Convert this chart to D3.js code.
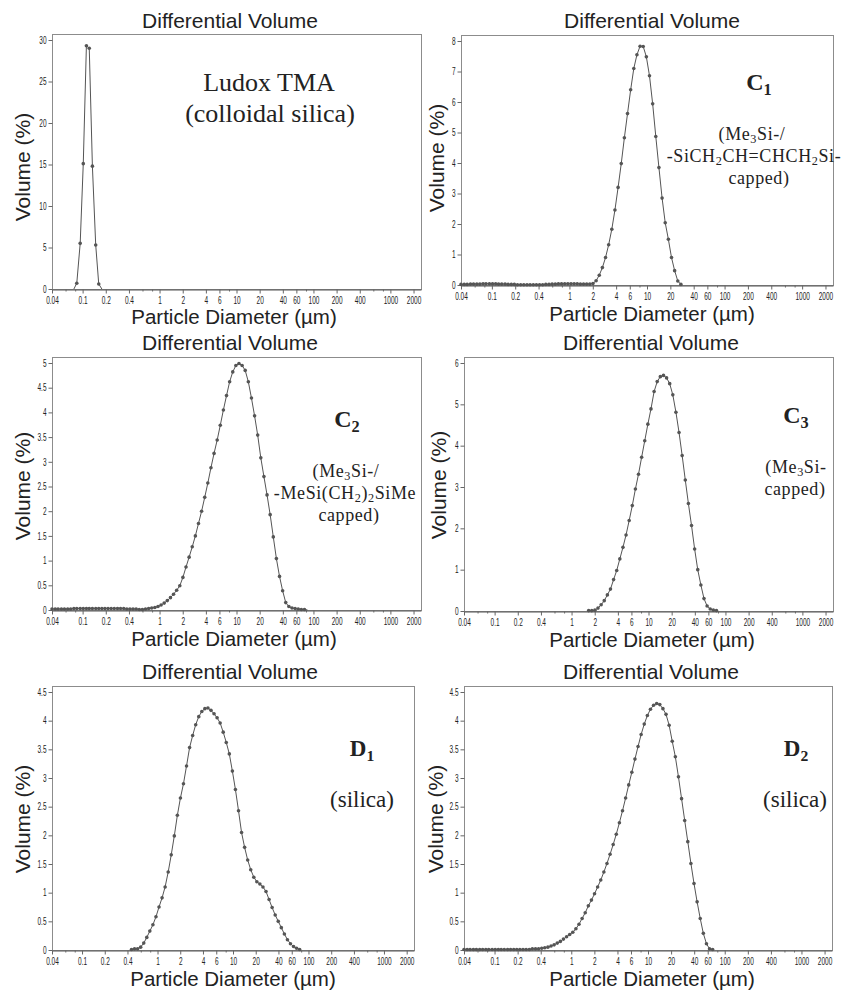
<!DOCTYPE html>
<html>
<head>
<meta charset="utf-8">
<script src="https://cdn.jsdelivr.net/npm/d3@7"></script>
<style>
  body { margin: 0; background: #fff; }
  svg { display: block; }
  text { font-family: "Liberation Sans", Arial, sans-serif; fill: #222; }
  .note { font-family: "Liberation Serif", "Times New Roman", serif; }
</style>
</head>
<body>
<svg id="chart" width="854" height="991"></svg>
<script>
// Channel sizes of the analyser (um)
var channelSizes = [0.040, 0.044, 0.048, 0.053, 0.058, 0.064, 0.070, 0.077, 0.084, 0.093,
  0.102, 0.112, 0.122, 0.134, 0.148, 0.162, 0.178, 0.195, 0.214, 0.235,
  0.258, 0.284, 0.311, 0.342, 0.375, 0.412, 0.452, 0.496, 0.545, 0.598,
  0.657, 0.721, 0.791, 0.869, 0.954, 1.047, 1.149, 1.261, 1.385, 1.520,
  1.669, 1.832, 2.011, 2.207, 2.423, 2.660, 2.920, 3.205, 3.519, 3.862,
  4.240, 4.655, 5.109, 5.608, 6.156, 6.758, 7.418, 8.143, 8.939, 9.812,
  10.77, 11.83, 12.98, 14.25, 15.65, 17.18, 18.86, 20.70, 22.72, 24.94,
  27.38, 30.07, 33.00, 36.24, 39.77, 43.66, 47.93, 52.63, 57.77, 63.41,
  69.62, 76.43, 83.90, 92.09];

// Volume (%) per channel, each series starts at a channel index
var ludoxStart = 7;
var ludoxVolume = [0, 0.7, 5.5, 15.1, 29.3, 29.0, 14.8, 5.3, 0.6, 0];

var c1Start = 0;
var c1Volume = [0.02, 0.02, 0.02, 0.03, 0.03, 0.03, 0.03, 0.04, 0.04, 0.04,
  0.04, 0.04, 0.03, 0.03, 0.03, 0.02, 0.02, 0.02, 0.01, 0.01,
  0.01, 0.01, 0.01, 0.01, 0.01, 0.01, 0.01, 0.02, 0.02, 0.03,
  0.03, 0.04, 0.04, 0.04, 0.04, 0.04, 0.04, 0.04, 0.03, 0.03,
  0.03, 0.03, 0.05, 0.14, 0.32, 0.57, 0.9, 1.32, 1.83, 2.46,
  3.2, 3.98, 4.83, 5.62, 6.4, 7.1, 7.55, 7.83, 7.82, 7.48,
  6.86, 5.94, 4.87, 3.85, 2.85, 2.04, 1.5, 0.9, 0.47, 0.13, 0.02];

var c2Start = 0;
var c2Volume = [0.02, 0.02, 0.02, 0.02, 0.02, 0.02, 0.02, 0.03, 0.03, 0.03,
  0.03, 0.03, 0.03, 0.03, 0.03, 0.03, 0.03, 0.03, 0.03, 0.03,
  0.03, 0.03, 0.03, 0.03, 0.02, 0.02, 0.02, 0.02, 0.01, 0.01,
  0.02, 0.03, 0.04, 0.05, 0.07, 0.1, 0.14, 0.19, 0.25, 0.32,
  0.4, 0.49, 0.66, 0.87, 1.07, 1.28, 1.5, 1.75, 2.0, 2.28,
  2.57, 2.88, 3.17, 3.44, 3.74, 4.05, 4.34, 4.62, 4.82, 4.95,
  4.99, 4.95, 4.85, 4.62, 4.29, 3.93, 3.54, 3.08, 2.7, 2.33,
  1.93, 1.48, 1.04, 0.68, 0.39, 0.15, 0.07, 0.04, 0.03, 0.02,
  0.01, 0.01, 0];

var c3Start = 40;
var c3Volume = [0.01, 0.01, 0.02, 0.07, 0.15, 0.25, 0.39, 0.53, 0.76, 0.98,
  1.26, 1.54, 1.84, 2.19, 2.55, 2.95, 3.31, 3.72, 4.12, 4.52,
  4.89, 5.31, 5.55, 5.67, 5.7, 5.64, 5.5, 5.23, 4.81, 4.32,
  3.76, 3.17, 2.6, 2.07, 1.5, 1.0, 0.63, 0.3, 0.12, 0.05,
  0.02, 0.01];

var d1Start = 26;
var d1Volume = [0.01, 0.02, 0.02, 0.05, 0.12, 0.22, 0.33, 0.44, 0.58, 0.75,
  0.91, 1.1, 1.36, 1.66, 1.99, 2.35, 2.65, 2.9, 3.21, 3.53,
  3.74, 3.93, 4.07, 4.16, 4.21, 4.22, 4.18, 4.12, 4.05, 3.96,
  3.8, 3.62, 3.42, 3.12, 2.8, 2.43, 2.05, 1.79, 1.57, 1.4,
  1.27, 1.19, 1.15, 1.1, 1.02, 0.88, 0.74, 0.61, 0.5, 0.39,
  0.28, 0.18, 0.11, 0.06, 0.03, 0.01];

var d2Start = 0;
var d2Volume = [0.01, 0.01, 0.01, 0.01, 0.01, 0.01, 0.01, 0.01, 0.01, 0.01,
  0.01, 0.01, 0.01, 0.01, 0.01, 0.01, 0.01, 0.01, 0.01, 0.01,
  0.01, 0.01, 0.02, 0.02, 0.02, 0.03, 0.04, 0.05, 0.07, 0.09,
  0.12, 0.15, 0.19, 0.23, 0.27, 0.31, 0.37, 0.45, 0.55, 0.65,
  0.77, 0.87, 0.98, 1.1, 1.22, 1.36, 1.51, 1.67, 1.84, 2.02,
  2.22, 2.43, 2.65, 2.88, 3.1, 3.33, 3.55, 3.76, 3.94, 4.09,
  4.2, 4.27, 4.3, 4.28, 4.21, 4.11, 3.92, 3.64, 3.37, 3.02,
  2.64, 2.26, 1.89, 1.51, 1.16, 0.84, 0.55, 0.29, 0.11, 0.02, 0.01];

// Axis ticks
var xTickValues = [0.04, 0.1, 0.2, 0.4, 1, 2, 4, 6, 10, 20, 40, 60, 100, 200, 400, 1000, 2000];
var xMinorTicks = [0.06, 0.08, 0.6, 0.8, 8, 80, 600, 800];

// Panel layout
var panels = [
  { start: ludoxStart, values: ludoxVolume, left: 52, top: 34, right: 421, bottom: 289, yTop: 30, yStep: 5,
    titleX: 230, titleY: 28, xLabelX: 234, xLabelY: 324, yLabelX: 30, yLabelY: 167,
    notes: [
      { x: 269, y: 91, size: 26, parts: [['Ludox TMA']] },
      { x: 270, y: 122, size: 26, parts: [['(colloidal silica)']] }
    ] },
  { start: c1Start, values: c1Volume, left: 461, top: 35, right: 833, bottom: 285, yTop: 8, yStep: 1,
    titleX: 652, titleY: 28, xLabelX: 652, xLabelY: 321, yLabelX: 444, yLabelY: 158,
    notes: [
      { x: 759, y: 90, size: 24, bold: true, parts: [['C'], ['1', 1]] },
      { x: 752, y: 140, size: 18, spread: 0.6, parts: [['(Me'], ['3', 1], ['Si-/']] },
      { x: 754, y: 162, size: 18, spread: 0.6, parts: [['-SiCH'], ['2', 1], ['CH=CHCH'], ['2', 1], ['Si-']] },
      { x: 759, y: 184, size: 18, spread: 0.6, parts: [['capped)']] }
    ] },
  { start: c2Start, values: c2Volume, left: 52, top: 357, right: 421, bottom: 610, yTop: 5, yStep: 0.5,
    titleX: 230, titleY: 350, xLabelX: 234, xLabelY: 646, yLabelX: 30, yLabelY: 486,
    notes: [
      { x: 347, y: 427, size: 24, bold: true, parts: [['C'], ['2', 1]] },
      { x: 346, y: 477, size: 18, spread: 0.6, parts: [['(Me'], ['3', 1], ['Si-/']] },
      { x: 345, y: 499, size: 18, spread: 0.6, parts: [['-MeSi(CH'], ['2', 1], [')'], ['2', 1], ['SiMe']] },
      { x: 349, y: 521, size: 18, spread: 0.6, parts: [['capped)']] }
    ] },
  { start: c3Start, values: c3Volume, left: 464, top: 357, right: 833, bottom: 611, yTop: 6, yStep: 1,
    titleX: 651, titleY: 350, xLabelX: 652, xLabelY: 647, yLabelX: 446, yLabelY: 485,
    notes: [
      { x: 796, y: 423, size: 24, bold: true, parts: [['C'], ['3', 1]] },
      { x: 796, y: 473, size: 18, spread: 0.6, parts: [['(Me'], ['3', 1], ['Si-']] },
      { x: 795, y: 495, size: 18, spread: 0.6, parts: [['capped)']] }
    ] },
  { start: d1Start, values: d1Volume, left: 52, top: 686, right: 414, bottom: 950, yTop: 4.5, yStep: 0.5,
    titleX: 230, titleY: 679, xLabelX: 233, xLabelY: 986, yLabelX: 30, yLabelY: 819,
    notes: [
      { x: 362, y: 756, size: 23, bold: true, parts: [['D'], ['1', 1]] },
      { x: 362, y: 807, size: 23, parts: [['(silica)']] }
    ] },
  { start: d2Start, values: d2Volume, left: 464, top: 686, right: 832, bottom: 950, yTop: 4.5, yStep: 0.5,
    titleX: 651, titleY: 679, xLabelX: 652, xLabelY: 986, yLabelX: 443, yLabelY: 819,
    notes: [
      { x: 796, y: 756, size: 23, bold: true, parts: [['D'], ['2', 1]] },
      { x: 795, y: 807, size: 23, parts: [['(silica)']] }
    ] }
];

var svg = d3.select('#chart');
var lineColor = '#555';
var squeeze = 0.65; // tick labels are narrow

var drawPanel = function(p){
  var x = d3.scaleLog().domain([0.04, 2500]).range([p.left, p.right]);
  var y = d3.scaleLinear().domain([0, p.yTop]).range([p.bottom, p.top + 6]);
  var g = svg.append('g');

  // frame
  g.append('rect')
    .attr('x', p.left + 0.5).attr('y', p.top + 0.5)
    .attr('width', p.right - p.left).attr('height', p.bottom - p.top)
    .attr('fill', 'none').attr('stroke', '#8c8c8c');

  // x axis, major then minor ticks
  var xAxis = g.append('g')
    .attr('transform', 'translate(0,' + (p.bottom + 0.5) + ')')
    .call(d3.axisBottom(x).tickValues(xTickValues).tickSize(4).tickSizeOuter(0).tickPadding(3)
      .tickFormat(function(d){ return String(d); }));
  xAxis.select('.domain').attr('stroke', '#555');
  xAxis.selectAll('.tick line').attr('stroke', '#666');
  xAxis.selectAll('.tick text')
    .attr('font-family', '"Liberation Sans", Arial, sans-serif')
    .attr('font-size', 10).attr('fill', '#444')
    .attr('transform', 'scale(' + squeeze + ',1)');

  g.append('g')
    .attr('transform', 'translate(0,' + (p.bottom + 0.5) + ')')
    .call(d3.axisBottom(x).tickValues(xMinorTicks).tickSize(2).tickSizeOuter(0).tickFormat(''))
    .call(function(a){ a.select('.domain').remove(); a.selectAll('line').attr('stroke', '#666'); });

  // y axis
  var yAxis = g.append('g')
    .attr('transform', 'translate(' + (p.left + 0.5) + ',0)')
    .call(d3.axisLeft(y).tickValues(d3.range(0, p.yTop + p.yStep / 2, p.yStep)).tickSize(4).tickSizeOuter(0)
      .tickFormat(function(d){ return String(+d.toFixed(1)); }));
  yAxis.select('.domain').remove();
  yAxis.selectAll('.tick line').attr('stroke', '#666');
  yAxis.selectAll('.tick text')
    .attr('font-family', '"Liberation Sans", Arial, sans-serif')
    .attr('font-size', 10).attr('fill', '#444')
    .attr('x', -6 / squeeze)
    .attr('transform', 'scale(' + squeeze + ',1)');

  // curve and markers
  var pts = p.values.map(function(v, i){ return { d: channelSizes[p.start + i], v: v }; });
  var line = d3.line()
    .x(function(d){ return x(d.d); })
    .y(function(d){ return y(d.v); });
  g.append('path').datum(pts)
    .attr('d', line)
    .attr('fill', 'none').attr('stroke', lineColor).attr('stroke-width', 1);
  g.selectAll('circle')
    .data(pts.filter(function(d){ return d.v > 0; }))
    .enter()
    .append('circle')
    .attr('cx', function(d){ return x(d.d); })
    .attr('cy', function(d){ return y(d.v); })
    .attr('r', 1.8)
    .attr('fill', lineColor);

  // titles
  g.append('text').attr('x', p.titleX).attr('y', p.titleY)
    .attr('text-anchor', 'middle').attr('font-size', 21).text('Differential Volume');
  g.append('text').attr('x', p.xLabelX).attr('y', p.xLabelY)
    .attr('text-anchor', 'middle').attr('font-size', 20.5).text('Particle Diameter (\u00b5m)');
  g.append('text')
    .attr('transform', 'translate(' + p.yLabelX + ',' + p.yLabelY + ') rotate(-90)')
    .attr('text-anchor', 'middle').attr('font-size', 21).text('Volume (%)');

  // sample notes
  p.notes.forEach(function(n){
    var t = g.append('text').attr('class', 'note')
      .attr('x', n.x).attr('y', n.y)
      .attr('text-anchor', 'middle').attr('font-size', n.size)
      .attr('letter-spacing', n.spread || 0)
      .attr('font-weight', n.bold ? 'bold' : 'normal');
    var shift = n.bold ? n.size * 0.22 : n.size * 0.15;
    var wasSub = false;
    n.parts.forEach(function(part){
      var s = t.append('tspan').text(part[0]);
      if (part[1]) {
        s.attr('font-size', n.size * 0.68).attr('dy', shift);
        wasSub = true;
      } else if (wasSub) {
        s.attr('dy', -shift);
        wasSub = false;
      }
    });
  });
};

panels.forEach(drawPanel);
</script>
</body>
</html>
